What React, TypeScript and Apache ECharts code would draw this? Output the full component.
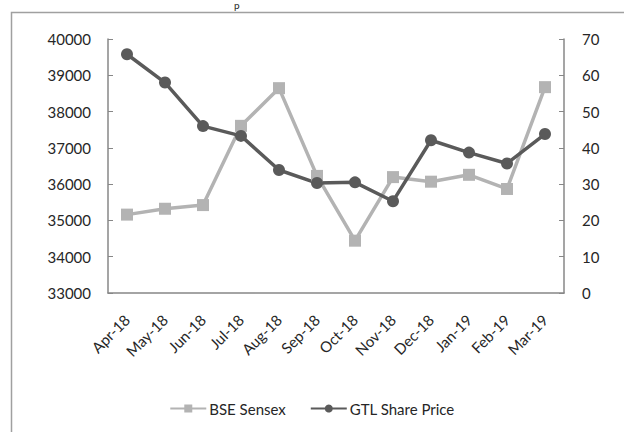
import React, { useEffect, useRef } from "react";
import * as echarts from "echarts";

const categories = ["Apr-18", "May-18", "Jun-18", "Jul-18", "Aug-18", "Sep-18", "Oct-18", "Nov-18", "Dec-18", "Jan-19", "Feb-19", "Mar-19"];
const bseSensex = [35160, 35322, 35423, 37607, 38645, 36227, 34442, 36194, 36068, 36257, 35867, 38673];
const gtlSharePrice = [65.8, 58.0, 46.0, 43.3, 33.9, 30.3, 30.5, 25.3, 42.1, 38.7, 35.7, 43.8];

const FONT = "Lato, 'Open Sans', sans-serif";
const AXIS_COLOR = "#878787";
const TEXT_COLOR = "#262626";

export default function App() {
  const ref = useRef<HTMLDivElement>(null);
  useEffect(() => {
    if (!ref.current) return;
    const chart = echarts.init(ref.current, undefined, { renderer: "svg" });
    chart.setOption({
      animation: false,
      backgroundColor: "#ffffff",
      textStyle: { fontFamily: FONT },
      graphic: [
        {
          type: "rect",
          shape: { x: 11.5, y: 12.5, width: 700, height: 500 },
          style: { fill: "none", stroke: "#a0a0a0", lineWidth: 1.5 },
          silent: true,
        },
        {
          type: "text",
          x: 234,
          y: 0,
          style: { text: "p", fill: TEXT_COLOR, font: `10px ${FONT}` },
          silent: true,
        },
      ],
      grid: { left: 108, right: 60, top: 39, bottom: 139 },
      legend: {
        bottom: 11,
        left: "center",
        itemWidth: 36,
        itemHeight: 10,
        itemGap: 24,
        textStyle: { fontFamily: FONT, fontSize: 15, color: TEXT_COLOR, padding: [0, 0, 0, -2] },
        data: ["BSE Sensex", "GTL Share Price"],
      },
      xAxis: {
        type: "category",
        data: categories,
        boundaryGap: true,
        axisLine: { lineStyle: { color: AXIS_COLOR, width: 1.5 } },
        axisTick: { inside: true, length: 5, lineStyle: { color: AXIS_COLOR } },
        axisLabel: { rotate: 45, fontSize: 15, color: TEXT_COLOR, fontFamily: FONT, margin: 24, interval: 0 },
        splitLine: { show: false },
      },
      yAxis: [
        {
          type: "value",
          min: 33000,
          max: 40000,
          interval: 1000,
          position: "left",
          axisLine: { show: true, lineStyle: { color: AXIS_COLOR, width: 1.5 } },
          axisTick: { show: true, inside: true, length: 5, lineStyle: { color: AXIS_COLOR } },
          axisLabel: { fontSize: 15, color: TEXT_COLOR, fontFamily: FONT, margin: 17, formatter: (v: number) => String(v) },
          splitLine: { show: false },
        },
        {
          type: "value",
          min: 0,
          max: 70,
          interval: 10,
          position: "right",
          axisLine: { show: true, lineStyle: { color: AXIS_COLOR, width: 1.5 } },
          axisTick: { show: true, inside: true, length: 5, lineStyle: { color: AXIS_COLOR } },
          axisLabel: { fontSize: 15, color: TEXT_COLOR, fontFamily: FONT, margin: 18, formatter: (v: number) => String(v) },
          splitLine: { show: false },
        },
      ],
      series: [
        {
          name: "BSE Sensex",
          type: "line",
          yAxisIndex: 0,
          data: bseSensex,
          symbol: "rect",
          symbolSize: 12,
          lineStyle: { color: "#b3b3b3", width: 3.5 },
          itemStyle: { color: "#b3b3b3" },
        },
        {
          name: "GTL Share Price",
          type: "line",
          yAxisIndex: 1,
          data: gtlSharePrice,
          symbol: "circle",
          symbolSize: 12,
          lineStyle: { color: "#5a5a5a", width: 3.5 },
          itemStyle: { color: "#5a5a5a" },
        },
      ],
    });
    return () => chart.dispose();
  }, []);
  return <div ref={ref} style={{ width: 624, height: 432, position: "fixed", left: 0, top: 0 }} />;
}
